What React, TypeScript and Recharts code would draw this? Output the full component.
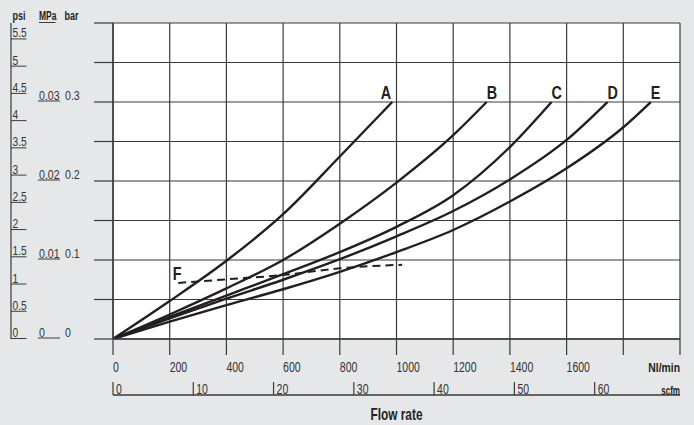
import React from 'react';
import { LineChart, Line, XAxis, YAxis, CartesianGrid, Label } from 'recharts';

// flow in Nl/min, pressure drop in bar
const FLOW_A = [0, 200, 400, 600, 800, 985];
const BAR_A = [0, 0.048, 0.099, 0.158, 0.231, 0.3];
const FLOW_B = [0, 200, 400, 600, 800, 1000, 1200, 1318];
const BAR_B = [0, 0.031, 0.064, 0.1, 0.146, 0.198, 0.258, 0.3];
const FLOW_C = [0, 200, 400, 600, 800, 1000, 1200, 1400, 1547];
const BAR_C = [0, 0.028, 0.055, 0.082, 0.11, 0.142, 0.182, 0.243, 0.3];
const FLOW_D = [0, 200, 400, 600, 800, 1000, 1200, 1400, 1600, 1744];
const BAR_D = [0, 0.026, 0.051, 0.075, 0.101, 0.13, 0.162, 0.202, 0.252, 0.3];
const FLOW_E = [0, 200, 400, 600, 800, 1000, 1200, 1400, 1600, 1800, 1897];
const BAR_E = [0, 0.022, 0.043, 0.063, 0.085, 0.11, 0.138, 0.174, 0.216, 0.268, 0.3];
const FLOW_F = [230, 400, 600, 800, 1020];
const BAR_F = [0.071, 0.0755, 0.081, 0.0895, 0.094];

const NL_TICKS = [0, 200, 400, 600, 800, 1000, 1200, 1400, 1600, 1800, 2000];
const NL_MAX = 2000;
const NL_PER_SCFM = 28.3168;
const SCFM_MAX = NL_MAX / NL_PER_SCFM;
const SCFM_TICKS = [0, 10, 20, 30, 40, 50, 60];
const BAR_MAX = 0.4;
const BAR_TICKS = [0, 0.05, 0.1, 0.15, 0.2, 0.25, 0.3, 0.35, 0.4];
const BAR_LABELLED = [0, 0.1, 0.2, 0.3];
const BAR_LABELS = ['0', '0.1', '0.2', '0.3'];
const MPA_LABELS = ['0', '0.01', '0.02', '0.03'];
const PSI_PER_BAR = 14.5038;
const PSI_TICKS = [0, 0.5, 1, 1.5, 2, 2.5, 3, 3.5, 4, 4.5, 5, 5.5];

const INK = '#231f20';
const TXT = '#333';
const GRID = '#3a3a3a';
const BG = '#e6e7e9';
const FONT = '"Liberation Sans", Arial, sans-serif';

const zip = (flow: number[], bar: number[]) => flow.map((f, i) => ({ flow: f, bar: bar[i] }));

const SERIES = [
  { name: 'A', data: zip(FLOW_A, BAR_A), anchor: 'end', dx: -1 },
  { name: 'B', data: zip(FLOW_B, BAR_B), anchor: 'start', dx: 0 },
  { name: 'C', data: zip(FLOW_C, BAR_C), anchor: 'start', dx: 0 },
  { name: 'D', data: zip(FLOW_D, BAR_D), anchor: 'start', dx: 0 },
  { name: 'E', data: zip(FLOW_E, BAR_E), anchor: 'start', dx: 0 },
];
const F_DATA = zip(FLOW_F, BAR_F);
// keeps the scfm axis scaled; drawn with no stroke
const SCFM_RANGE = [{ scfm: 0, bar: 0 }, { scfm: SCFM_MAX, bar: 0 }];

// the reference uses a condensed face, so squeeze a normal one horizontally
const NText = ({ x, y, size = 13, sx = 0.8, bold = false, anchor = 'start', fill = TXT, children }: any) => (
  <text transform={`translate(${x},${y}) scale(${sx},1)`} textAnchor={anchor} fontFamily={FONT}
    fontSize={size} fontWeight={bold ? 'bold' : 'normal'} fill={fill}>{children}</text>
);

const curveLabel = (text: string, at: number, anchor: string, dx: number) =>
  (props: any) => {
    const { x, y, index } = props;
    if (index !== at) return <g />;
    return <NText x={x + dx} y={y - 3} size={18} sx={0.8} bold anchor={anchor} fill={INK}>{text}</NText>;
  };

const NlTick = ({ x, y, payload }: any) => {
  const v = payload.value;
  if (v === NL_MAX) {
    return <NText x={x} y={y + 16.5} size={13} sx={0.8} bold anchor="end" fill={INK}>Nl/min</NText>;
  }
  if (v > 1600) return <g />;
  return <NText x={x} y={y + 16.5} size={14} sx={0.75}>{v}</NText>;
};

const ScfmTick = ({ x, y, payload }: any) => {
  const v = payload.value;
  if (v > 60) {
    return <NText x={x} y={y - 0.5} size={13} sx={0.62} bold anchor="end" fill={INK}>scfm</NText>;
  }
  return (
    <g>
      <line x1={x} x2={x} y1={y - 13} y2={y} stroke={GRID} strokeWidth={1.2} />
      <NText x={x + 3} y={y - 1} size={14} sx={0.75}>{v}</NText>
    </g>
  );
};

const BarTick = ({ x, y, payload }: any) => {
  const i = BAR_LABELLED.findIndex((b) => Math.abs(b - payload.value) < 1e-6);
  if (i < 0) return <g />;
  return (
    <g>
      <NText x={x - 55} y={y - 2.5} size={12.5} sx={0.85}>{MPA_LABELS[i]}</NText>
      <line x1={x - 56} x2={x - 34} y1={y - 1} y2={y - 1} stroke={GRID} strokeWidth={1} />
      <NText x={x - 29} y={y - 2.5} size={12.5} sx={0.85}>{BAR_LABELS[i]}</NText>
    </g>
  );
};

const PsiTick = ({ x, y, payload }: any) => (
  <g>
    <NText x={x + 1.5} y={y - 2} size={12} sx={0.85}>{payload.value}</NText>
    <line x1={x} x2={x + 15.5} y1={y - 0.5} y2={y - 0.5} stroke={GRID} strokeWidth={1} />
  </g>
);

const Headers = () => (
  <g>
    <NText x={12.5} y={19.5} size={12.5} sx={0.72} bold fill={INK}>psi</NText>
    <NText x={39} y={19.5} size={12.5} sx={0.68} bold fill={INK}>MPa</NText>
    <line x1={39} x2={55.5} y1={22.5} y2={22.5} stroke={GRID} strokeWidth={1} />
    <NText x={64.5} y={19.5} size={12.5} sx={0.72} bold fill={INK}>bar</NText>
  </g>
);

const FlowRate = (props: any) => {
  const vb = props.viewBox || {};
  return (
    <NText x={vb.x + vb.width / 2} y={vb.y + 25} size={16} sx={0.74} bold anchor="middle" fill={INK}>
      Flow rate
    </NText>
  );
};

export default function App() {
  return (
    <div style={{ position: 'absolute', left: 0, top: 0, width: 694, height: 425, background: BG }}>
      <LineChart width={694} height={425} margin={{ top: 23, right: 14, left: 0, bottom: 0 }}>
        <CartesianGrid xAxisId="nl" yAxisId="bar" fill="#fff" fillOpacity={1}
          stroke={GRID} strokeWidth={1.2} />
        <XAxis xAxisId="nl" type="number" dataKey="flow" domain={[0, NL_MAX]} ticks={NL_TICKS}
          interval={0} height={56} tickSize={16} tickMargin={0} allowDataOverflow
          axisLine={{ stroke: GRID, strokeWidth: 1.4 }} tickLine={{ stroke: GRID, strokeWidth: 1.2 }}
          tick={<NlTick />} />
        <XAxis xAxisId="scfm" type="number" dataKey="scfm" domain={[0, SCFM_MAX]}
          ticks={[...SCFM_TICKS, SCFM_MAX]} interval={0} height={30} tickSize={0} tickMargin={0}
          allowDataOverflow axisLine={{ stroke: GRID, strokeWidth: 1.4 }} tickLine={false}
          tick={<ScfmTick />}>
          <Label content={<FlowRate />} />
        </XAxis>
        <YAxis yAxisId="bar" type="number" domain={[0, BAR_MAX]} ticks={BAR_TICKS} interval={0}
          width={102} tickSize={19} tickMargin={0} allowDataOverflow
          axisLine={{ stroke: GRID, strokeWidth: 1.4 }} tickLine={{ stroke: GRID, strokeWidth: 1.2 }}
          tick={<BarTick />} />
        <YAxis yAxisId="psi" type="number" domain={[0, BAR_MAX * PSI_PER_BAR]} ticks={PSI_TICKS}
          interval={0} width={11} tickSize={0} tickMargin={0} allowDataOverflow
          axisLine={{ stroke: GRID, strokeWidth: 1.2 }} tickLine={false} tick={<PsiTick />}>
          <Label content={<Headers />} />
        </YAxis>
        <Line xAxisId="scfm" yAxisId="bar" data={SCFM_RANGE} dataKey="bar" stroke="none"
          dot={false} activeDot={false} isAnimationActive={false} />
        {SERIES.map((s) => (
          <Line key={s.name} xAxisId="nl" yAxisId="bar" data={s.data} dataKey="bar" type="monotone"
            stroke={INK} strokeWidth={2.4} dot={false} isAnimationActive={false}
            label={curveLabel(s.name, s.data.length - 1, s.anchor, s.dx)} />
        ))}
        <Line xAxisId="nl" yAxisId="bar" data={F_DATA} dataKey="bar" type="monotone"
          stroke={INK} strokeWidth={2} strokeDasharray="8 5" dot={false} isAnimationActive={false}
          label={curveLabel('F', 0, 'middle', -1)} />
      </LineChart>
    </div>
  );
}
